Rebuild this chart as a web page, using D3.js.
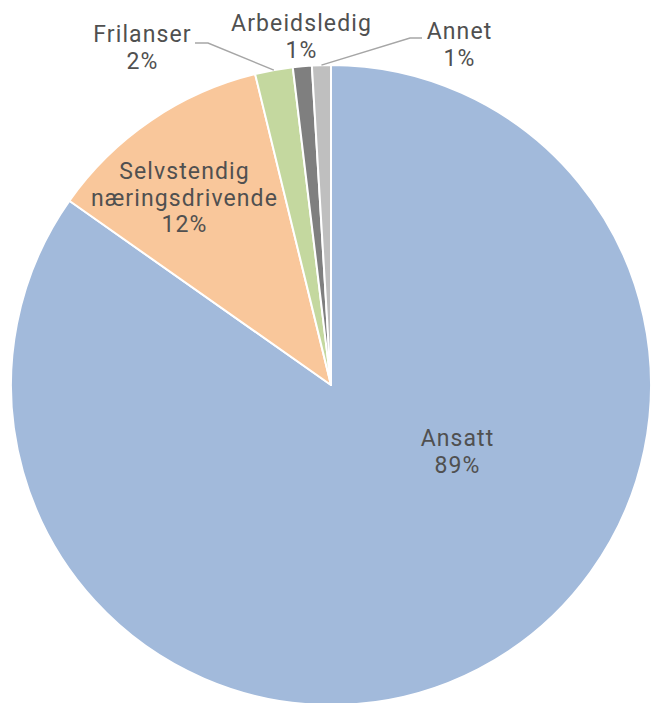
<!DOCTYPE html>
<html>
<head>
<meta charset="utf-8">
<script src="https://cdn.jsdelivr.net/npm/d3@7"></script>
<style>
  body { margin: 0; background: #fff; }
  text { font-family: Roboto, "Noto Sans", sans-serif; fill: #505050; }
</style>
</head>
<body>
<script>
// data
var categories = ['Ansatt', 'Selvstendig næringsdrivende', 'Frilanser', 'Arbeidsledig', 'Annet'];
var values = [89, 12, 2, 1, 1];
var labels = ['89%', '12%', '2%', '1%', '1%'];

var colors = ['#a2badb', '#f9c79b', '#c4d89f', '#7f7f7f', '#bfbfbf'];

// label lines (text split) and where the first baseline sits relative to the pie centre
var labelLines = [['Ansatt'], ['Selvstendig', 'næringsdrivende'], ['Frilanser'], ['Arbeidsledig'], ['Annet']];
var labelPos = [[126, 61], [-147, -206], [-189, -343], [-30, -354], [128, -346]];
// leader lines: null = none, otherwise elbow + end point relative to centre
var leaders = [null, null, { elbow: [-123, -342], end: [-136, -342] }, null, { elbow: [79, -347], end: [91, -347] }];

var width = 652, height = 703;
var cx = 331, cy = 385, radius = 320;
var lineH = 26.5;

var svg = d3.select('body').append('svg')
  .attr('width', width)
  .attr('height', height);

var g = svg.append('g').attr('transform', 'translate(' + cx + ',' + cy + ')');

var pie = d3.pie().sort(null).value(function(d) { return d; });
var arcs = pie(values);

var arc = d3.arc().innerRadius(0).outerRadius(radius);
var edgeArc = d3.arc().innerRadius(radius).outerRadius(radius);

g.selectAll('path.slice')
  .data(arcs)
  .enter()
  .append('path')
    .attr('class', 'slice')
    .attr('d', arc)
    .attr('fill', function(d, i) { return colors[i]; })
    .attr('stroke', '#fff')
    .attr('stroke-width', 2)
    .attr('stroke-linejoin', 'round');

// leader lines
arcs.forEach(function(d, i) {
  var l = leaders[i];
  if (!l) return;
  var p = edgeArc.centroid(d);
  g.append('polyline')
    .attr('points', [p, l.elbow, l.end].map(function(q) { return q.join(','); }).join(' '))
    .attr('fill', 'none')
    .attr('stroke', '#a6a6a6')
    .attr('stroke-width', 1.5);
});

// labels
arcs.forEach(function(d, i) {
  var t = g.append('text')
    .attr('text-anchor', 'middle')
    .attr('font-size', 23)
    .attr('letter-spacing', 1.1);
  var lines = labelLines[i].concat([labels[i]]);
  lines.forEach(function(s, k) {
    t.append('tspan')
      .attr('x', labelPos[i][0] + 0.5)
      .attr('y', labelPos[i][1] + k * lineH)
      .text(s);
  });
});
</script>
</body>
</html>
